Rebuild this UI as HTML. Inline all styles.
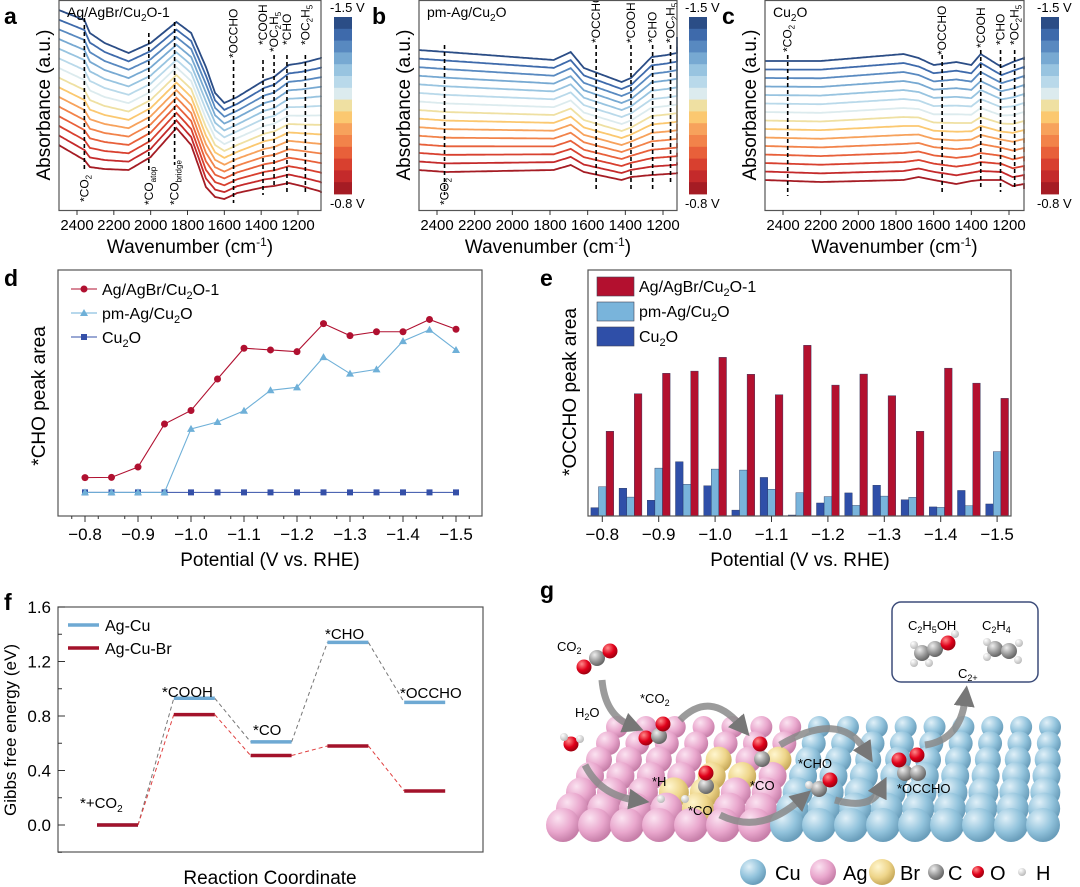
<!DOCTYPE html>
<html><head><meta charset="utf-8"><style>
body{margin:0;background:#fff}
svg{display:block;font-family:"Liberation Sans",sans-serif}
</style></head><body>
<svg id="fig" width="1080" height="887" viewBox="0 0 1080 887" xmlns="http://www.w3.org/2000/svg">
<defs>
<radialGradient id="gPink" cx="35%" cy="30%" r="70%"><stop offset="0" stop-color="#fbe3f1"/><stop offset="0.6" stop-color="#e9a7cd"/><stop offset="1" stop-color="#c77fa9"/></radialGradient>
<radialGradient id="gBlue" cx="35%" cy="30%" r="70%"><stop offset="0" stop-color="#e0f0f8"/><stop offset="0.6" stop-color="#92c3dc"/><stop offset="1" stop-color="#6a9ebb"/></radialGradient>
<radialGradient id="gYel" cx="35%" cy="30%" r="70%"><stop offset="0" stop-color="#fff6cf"/><stop offset="0.6" stop-color="#eed58a"/><stop offset="1" stop-color="#c9ab5c"/></radialGradient>
<radialGradient id="gGrey" cx="35%" cy="30%" r="70%"><stop offset="0" stop-color="#eee"/><stop offset="0.6" stop-color="#999"/><stop offset="1" stop-color="#666"/></radialGradient>
<radialGradient id="gRed" cx="35%" cy="30%" r="70%"><stop offset="0" stop-color="#ff8a8a"/><stop offset="0.6" stop-color="#e0001a"/><stop offset="1" stop-color="#a00010"/></radialGradient>
<radialGradient id="gWhite" cx="35%" cy="30%" r="70%"><stop offset="0" stop-color="#fff"/><stop offset="1" stop-color="#bbb"/></radialGradient>
<marker id="ah" viewBox="0 0 10 10" refX="3" refY="5" markerWidth="3" markerHeight="3" orient="auto"><path d="M0,0L10,5L0,10z" fill="#777"/></marker>
</defs>

<g font-weight="bold" font-size="23" fill="#000">
<text x="4" y="24">a</text>
<text x="372" y="24">b</text>
<text x="722" y="24">c</text>
<text x="4" y="286">d</text>
<text x="540" y="286">e</text>
<text x="4" y="610">f</text>
<text x="540" y="598">g</text>
</g>

<g id="pa"></g>
<g id="pb"></g>
<g id="pc"></g>
<g id="pd"></g>
<g id="pe"></g>
<g id="pf"></g>
<g id="pg"></g>
</svg>
<script>
// ---------- data ----------
const potentials = ['-0.8','-0.85','-0.9','-0.95','-1.0','-1.05','-1.1','-1.15','-1.2','-1.25','-1.3','-1.35','-1.4','-1.45','-1.5'];
const dTickLabels = ['\u22120.8','\u22120.9','\u22121.0','\u22121.1','\u22121.2','\u22121.3','\u22121.4','\u22121.5'];
const choAgAgBr = [15.6,15.7,19.9,37.4,42.9,55.7,68.2,67.5,66.8,78.2,73.3,74.9,74.9,79.9,75.9];
const choPmAg = [9.6,9.6,9.6,9.6,35.4,38.2,42.8,51.1,52.3,64.6,57.9,59.6,71.1,75.7,67.5];
const choCu2O = [9.6,9.6,9.6,9.6,9.6,9.6,9.6,9.6,9.6,9.6,9.6,9.6,9.6,9.6,9.6];
const occAgAgBr = [34.5,49.8,58.1,59.0,64.6,57.7,49.4,69.5,53.3,57.8,49.0,34.5,60.2,54.1,47.9];
const occPmAg = [11.9,7.7,19.5,12.9,19.1,18.7,10.9,9.5,7.9,4.3,8.1,7.6,3.5,4.2,26.2];
const occCu2O = [3.4,11.3,6.4,22.1,12.3,2.4,15.7,0.4,5.3,9.4,12.5,6.6,3.7,10.4,4.9];
const fSteps = ['*+CO2','*COOH','*CO','*CHO','*OCCHO'];
const fAgCu = [0,0.93,0.61,1.34,0.90];
const fAgCuBr = [0,0.81,0.51,0.58,0.25];
const fTicks = [0,0.4,0.8,1.2,1.6];
const irTicks = [2400,2200,2000,1800,1600,1400,1200];
const aTop = [[2500,10],[2360,20],[2330,33],[2250,43],[2120,53],[2000,43],[1860,22],[1780,33],[1700,67],[1650,93],[1600,103],[1530,97],[1380,80],[1330,77],[1250,65],[1180,63],[1050,57]];
const aBot = [[2500,145],[2360,160],[2330,167],[2250,169],[2120,170],[2000,157],[1860,128],[1780,145],[1700,187],[1650,197],[1600,199],[1530,193],[1380,187],[1330,186],[1250,183],[1180,186],[1050,193]];
const bTop = [[2500,50],[2350,52],[1780,60],[1690,52],[1620,68],[1420,82],[1370,78],[1260,57],[1180,55],[1100,52],[1050,37]];
const bBot = [[2500,170],[2350,172],[1780,170],[1690,165],[1620,172],[1420,180],[1370,177],[1260,175],[1180,174],[1100,173],[1050,172]];
const cTop = [[2500,61],[2200,61],[1760,54],[1680,58],[1600,65],[1480,62],[1400,65],[1350,54],[1240,67],[1180,62],[1120,58],[1050,60]];
const cBot = [[2500,180],[2400,182],[2200,180],[1800,177],[1700,180],[1640,184],[1500,181],[1380,180],[1330,180],[1230,186],[1100,184],[1050,189]];
const cmap = ['#a51c24','#c42a2b','#d8402f','#e8603a','#f2834a','#f7a25c','#fbc870','#efe0a2','#dcebee','#b9d9ea','#98c4e0','#77a9d2','#5889c0','#3e6aab','#2b4d86'];

const NS='http://www.w3.org/2000/svg';
function mk(parent,tag,attrs,txt){const e=document.createElementNS(NS,tag);for(const k in attrs)e.setAttribute(k,attrs[k]);if(txt!==undefined)e.textContent=txt;parent.appendChild(e);return e;}

// label parts: [text, sub, text2, sub2]
function ftir(gid,box,top,bot,title,peaks){
  const g=document.getElementById(gid);
  const [x0,x1,tick2400,tick1200,cbx]=box;
  const X=w=>tick2400+(2400-w)*(tick1200-tick2400)/1200;
  for(let i=0;i<15;i++){
    let d='';
    for(let w=2500;w>=1050;w-=10){
      let k=0;while(k<top.length-2&&top[k+1][0]>w)k++;
      const t=(top[k][0]-w)/(top[k][0]-top[k+1][0]);
      const yt=top[k][1]+(top[k+1][1]-top[k][1])*t;
      const yb=bot[k][1]+(bot[k+1][1]-bot[k][1])*t;
      const y=yb+(yt-yb)*i/14;
      const px=Math.max(x0,Math.min(x1,X(w)));
      d+=(d?'L':'M')+px.toFixed(1)+','+y.toFixed(1);
    }
    const p=mk(g,'path',{d:d,fill:'none',stroke:cmap[i],'stroke-width':1.8});
    
    
  }
  peaks.forEach(pk=>{
    const px=X(pk[0]);
    const l=mk(g,'line',{x1:px,x2:px,y1:pk[1],y2:pk[2],stroke:'#000','stroke-width':1.6,'stroke-dasharray':'4,3'});
    
    
    const parts=pk[3];
    const t=mk(g,'text',{x:0,y:0,'font-size':12,transform:`translate(${px+4},${pk[4]}) rotate(-90)`},parts[0]);
    if(parts[1]){mk(t,'tspan',{dy:3,'font-size':8},parts[1]);}
    if(parts[2]){mk(t,'tspan',{dy:-3},parts[2]);}
    if(parts[3]){mk(t,'tspan',{dy:3,'font-size':8},parts[3]);}
    
    
  });
  const fr=mk(g,'rect',{x:x0,y:0.5,width:x1-x0,height:210,fill:'none',stroke:'#555','stroke-width':1.2});
  
  
  irTicks.forEach(w=>{const px=X(w);
    mk(g,'line',{x1:px,x2:px,y1:210,y2:215,stroke:'#333'});
    const t=mk(g,'text',{x:px,y:230,'font-size':15,'text-anchor':'middle'},w);
    
    
  });
  const xt=mk(g,'text',{x:(x0+x1)/2,y:253,'font-size':19,'text-anchor':'middle'},'Wavenumber (cm');
  mk(xt,'tspan',{dy:-7,'font-size':12},'-1');mk(xt,'tspan',{dy:7},')');
  
  
  const yt=mk(g,'text',{x:0,y:0,'font-size':19,'text-anchor':'middle',transform:`translate(${x0-9},105) rotate(-90)`},'Absorbance (a.u.)');
  
  
  const tt=mk(g,'text',{x:x0+8,y:17,'font-size':14},title[0]);
  if(title[1]){mk(tt,'tspan',{dy:4,'font-size':10},'2');mk(tt,'tspan',{dy:-4},title[1]);}
  
  
  for(let i=0;i<15;i++){
    const r=mk(g,'rect',{x:cbx,y:17+i*11.8,width:18,height:12.2,fill:cmap[14-i]});
    
    
  }
  const t1=mk(g,'text',{x:cbx-4,y:12,'font-size':13},'-1.5 V');
  
  
  const t2=mk(g,'text',{x:cbx-4,y:208,'font-size':13},'-0.8 V');
  
  
}
ftir('pa',[59,321,77,298,334],aTop,aBot,['Ag/AgBr/Cu','O-1'],
 [[2360,18,170,['*CO','2'],202],[2010,33,170,['*CO','atop'],205],[1870,22,165,['*CO','bridge'],205],[1550,60,203,['*OCCHO'],58],[1390,60,195,['*COOH'],45],[1330,55,185,['*OC','2','H','5'],52],[1260,55,195,['*CHO'],45],[1160,55,195,['*OC','2','H','5'],45]]);
ftir('pb',[419,677,437,663,689],bTop,bBot,['pm-Ag/Cu','O'],
 [[2360,45,195,['*CO','2'],205],[1555,45,192,['*OCCHO'],43],[1370,45,190,['*COOH'],43],[1255,45,190,['*CHO'],43],[1160,45,185,['*OC','2','H','5'],43]]);
ftir('pc',[765,1024,783,1009,1041],cTop,cBot,['Cu','O'],
 [[2375,55,196,['*CO','2'],52],[1555,55,193,['*OCCHO'],55],[1350,50,190,['*COOH'],48],[1245,50,192,['*CHO'],45],[1170,50,188,['*OC','2','H','5'],45]]);

// ---------- panel d ----------
(function(){
  const g=document.getElementById('pd');
  const X=i=>85+i*26.5, Y=v=>516-v*2.46;
  mk(g,'rect',{x:58,y:270,width:424,height:246,fill:'none',stroke:'#555','stroke-width':1.2});
  for(let i=0;i<=15;i++){const x=X(i)-13.25;mk(g,'line',{x1:x,x2:x,y1:516,y2:519,stroke:'#333'});}
  dTickLabels.forEach((s,k)=>{const x=X(k*2);mk(g,'line',{x1:x,x2:x,y1:516,y2:522,stroke:'#333'});
    const t=mk(g,'text',{x:x,y:540,'font-size':17,'text-anchor':'middle'},s);
    
    });
  const xt=mk(g,'text',{x:270,y:566,'font-size':19,'text-anchor':'middle'},'Potential (V vs. RHE)');
  
  
  const yt=mk(g,'text',{x:0,y:0,'font-size':19,'text-anchor':'middle',transform:'translate(45,396) rotate(-90)'},'*CHO peak area');
  
  
  const series=[[choCu2O,'#3550a8','sq','Cu2O'],[choPmAg,'#6fb0d8','tri','pm-Ag/Cu2O'],[choAgAgBr,'#b01030','dot','Ag/AgBr/Cu2O-1']];
  series.forEach(s=>{
    const pts=s[0].map((v,i)=>X(i)+','+Y(v)).join(' ');
    const pl=mk(g,'polyline',{points:pts,fill:'none',stroke:s[1],'stroke-width':1.1});
    
    
    s[0].forEach((v,i)=>{const x=X(i),y=Y(v);let m;
      if(s[2]==='dot')m=mk(g,'circle',{cx:x,cy:y,r:3.5,fill:s[1]});
      else if(s[2]==='sq')m=mk(g,'rect',{x:x-3,y:y-3,width:6,height:6,fill:s[1]});
      else m=mk(g,'path',{d:`M${x},${y-4}L${x+4},${y+3}L${x-4},${y+3}z`,fill:s[1]});
      
      });
  });
  const leg=[['#b01030','dot','Ag/AgBr/Cu','O-1',289],['#6fb0d8','tri','pm-Ag/Cu','O',313],['#3550a8','sq','Cu','O',337]];
  leg.forEach(l=>{mk(g,'line',{x1:71,x2:97,y1:l[4],y2:l[4],stroke:l[0]});
    if(l[1]==='dot')mk(g,'circle',{cx:84,cy:l[4],r:3.5,fill:l[0]});
    else if(l[1]==='sq')mk(g,'rect',{x:81,y:l[4]-3,width:6,height:6,fill:l[0]});
    else mk(g,'path',{d:`M84,${l[4]-4}L88,${l[4]+3}L80,${l[4]+3}z`,fill:l[0]});
    const t=mk(g,'text',{x:102,y:l[4]+6,'font-size':16},l[2]);mk(t,'tspan',{dy:4,'font-size':11},'2');mk(t,'tspan',{dy:-4},l[3]);
    
    });
})();

// ---------- panel e ----------
(function(){
  const g=document.getElementById('pe');
  const X=i=>602.3+i*28.2, Y=v=>516-v*2.456, bw=7.6;
  const sets=[[occCu2O,'#2f4fa8',-1.5,'Cu2O'],[occPmAg,'#79b4db',-0.5,'pm-Ag'],[occAgAgBr,'#b3102f',0.5,'AgAgBr']];
  sets.forEach(s=>s[0].forEach((v,i)=>{
    const r=mk(g,'rect',{x:X(i)+s[2]*bw,y:Y(v),width:bw,height:516-Y(v),fill:s[1],stroke:'#22305a','stroke-width':0.4});
    
    }));
  mk(g,'rect',{x:588,y:270,width:423,height:246,fill:'none',stroke:'#555','stroke-width':1.2});
  dTickLabels.forEach((s,k)=>{const x=X(k*2);mk(g,'line',{x1:x,x2:x,y1:516,y2:522,stroke:'#333'});
    const t=mk(g,'text',{x:x,y:540,'font-size':17,'text-anchor':'middle'},s);
    
    });
  const xt=mk(g,'text',{x:800,y:566,'font-size':19,'text-anchor':'middle'},'Potential (V vs. RHE)');
  
  
  const yt=mk(g,'text',{x:0,y:0,'font-size':19,'text-anchor':'middle',transform:'translate(576,392) rotate(-90)'},'*OCCHO peak area');
  
  
  const leg=[['#b3102f','Ag/AgBr/Cu','O-1',277],['#79b4db','pm-Ag/Cu','O',302],['#2f4fa8','Cu','O',327]];
  leg.forEach(l=>{mk(g,'rect',{x:597,y:l[3],width:37,height:19,fill:l[0],stroke:'#445','stroke-width':0.6});
    const t=mk(g,'text',{x:639,y:l[3]+15,'font-size':16},l[1]);mk(t,'tspan',{dy:4,'font-size':11},'2');mk(t,'tspan',{dy:-4},l[2]);
    
    });
})();

// ---------- panel f ----------
(function(){
  const g=document.getElementById('pf');
  const X=i=>97+i*76.8, Y=e=>825-e*136.25, w=41;
  mk(g,'rect',{x:58,y:607,width:425,height:245,fill:'none',stroke:'#555','stroke-width':1.2});
  for(let e=-0.2;e<=1.61;e+=0.2){mk(g,'line',{x1:58,x2:62,y1:Y(e),y2:Y(e),stroke:'#333'});}
  fTicks.forEach(e=>{mk(g,'line',{x1:58,x2:65,y1:Y(e),y2:Y(e),stroke:'#333'});
    const t=mk(g,'text',{x:51,y:Y(e)+6,'font-size':17,'text-anchor':'end'},e.toFixed(1));
    
    });
  const yt=mk(g,'text',{x:0,y:0,'font-size':17,'text-anchor':'middle',transform:'translate(16,730) rotate(-90)'},'Gibbs free energy (eV)');
  
  
  const xt=mk(g,'text',{x:270,y:884,'font-size':19,'text-anchor':'middle'},'Reaction Coordinate');
  
  
  [[fAgCu,'#6ea9d3','#777','Ag-Cu'],[fAgCuBr,'#a3122a','#e04040','Ag-Cu-Br']].forEach(s=>{
    for(let i=0;i<4;i++){const c=mk(g,'line',{x1:X(i)+w,y1:Y(s[0][i]),x2:X(i+1),y2:Y(s[0][i+1]),stroke:s[2],'stroke-width':1,'stroke-dasharray':'4,3'});
      
      }
  });
  [[fAgCu,'#6ea9d3','Ag-Cu'],[fAgCuBr,'#a3122a','Ag-Cu-Br']].forEach(s=>{
    s[0].forEach((e,i)=>{const l=mk(g,'line',{x1:X(i),x2:X(i)+w,y1:Y(e),y2:Y(e),stroke:s[1],'stroke-width':3.5});
      
      });
  });
  const lab=[['*+CO',80,808,'2'],['*COOH',162,697],['*CO',253,735],['*CHO',325,639],['*OCCHO',400,698]];
  lab.forEach(l=>{const t=mk(g,'text',{x:l[1],y:l[2],'font-size':15},l[0]);if(l[3])mk(t,'tspan',{dy:4,'font-size':10},l[3]);
    
    });
  mk(g,'line',{x1:68,x2:99,y1:625,y2:625,stroke:'#6ea9d3','stroke-width':3.5});
  const t1=mk(g,'text',{x:105,y:631,'font-size':16},'Ag-Cu');
  
  
  mk(g,'line',{x1:68,x2:99,y1:648,y2:648,stroke:'#a3122a','stroke-width':3.5});
  const t2=mk(g,'text',{x:105,y:654,'font-size':16},'Ag-Cu-Br');
  
  
})();

// ---------- panel g ----------
(function(){
  const g=document.getElementById('pg');
  const rows=7,cols=16;
  const yellow=['2-4','3-4','4-4','4-3','5-4','3-5','2-6'];
  for(let r=0;r<rows;r++){
    const t=r/(rows-1);
    const y=727+t*98, rad=11+t*6;
    const xl=617+(547+16-617)*t, xr=1050+(1043-1050)*t;
    for(let c=0;c<cols;c++){
      const x=xl+(xr-xl)*c/(cols-1);
      const fill=yellow.includes(r+'-'+c)?'url(#gYel)':(c<7?'url(#gPink)':'url(#gBlue)');
      const s=mk(g,'circle',{cx:x,cy:y,r:rad,fill:fill});
      
      
    }
  }
  function arrow(d){const a=mk(g,'path',{d:d,fill:'none',stroke:'#8a8a8a','stroke-width':7,'stroke-opacity':0.85,'marker-end':'url(#ah)'});
    
    }
  arrow('M602,680 Q605,715 630,725');
  arrow('M680,720 Q710,690 740,725');
  arrow('M585,765 Q600,795 635,800');
  arrow('M720,815 Q760,835 800,800');
  arrow('M780,745 Q840,710 865,750');
  arrow('M835,800 Q870,810 880,790');
  arrow('M925,745 Q960,740 965,700');
  function atom(x,y,r,f){const a=mk(g,'circle',{cx:x,cy:y,r:r,fill:f});
    
    }
  const O=7.5,C=8,H=4;
  atom(584,667,O,'url(#gRed)');atom(597,658,C,'url(#gGrey)');atom(610,651,O,'url(#gRed)');
  atom(571,744,O,'url(#gRed)');atom(564,737,H,'url(#gWhite)');atom(580,739,H,'url(#gWhite)');
  atom(646,738,O,'url(#gRed)');atom(659,736,C,'url(#gGrey)');atom(663,724,O,'url(#gRed)');
  atom(706,786,C,'url(#gGrey)');atom(706,773,O,'url(#gRed)');atom(685,799,H,'url(#gWhite)');atom(661,799,H,'url(#gWhite)');
  atom(762,759,C,'url(#gGrey)');atom(760,744,O,'url(#gRed)');
  atom(819,789,C,'url(#gGrey)');atom(830,780,O,'url(#gRed)');atom(809,785,H,'url(#gWhite)');
  atom(905,773,C,'url(#gGrey)');atom(918,773,C,'url(#gGrey)');atom(899,760,O,'url(#gRed)');atom(917,755,O,'url(#gRed)');
  const box=mk(g,'rect',{x:892,y:602,width:146,height:80,rx:9,fill:'#fff',stroke:'#3d4d7a','stroke-width':1.5});
  
  
  atom(922,653,C,'url(#gGrey)');atom(935,649,C,'url(#gGrey)');atom(948,643,O,'url(#gRed)');atom(955,634,H,'url(#gWhite)');atom(914,663,H,'url(#gWhite)');atom(929,663,H,'url(#gWhite)');atom(914,645,H,'url(#gWhite)');
  atom(995,649,C,'url(#gGrey)');atom(1009,651,C,'url(#gGrey)');atom(987,642,H,'url(#gWhite)');atom(1019,643,H,'url(#gWhite)');atom(987,657,H,'url(#gWhite)');atom(1018,660,H,'url(#gWhite)');
  const labs=[['C',908,630,[['2',''],['H',0],['5',''],['OH',0]]],['C',982,630,[['2',''],['H',0],['4','']]],['C',958,678,[['2+','']]],['CO',557,651,[['2','']]],['*CO',640,703,[['2','']]],['H',575,717,[['2',''],['O',0]]],['*H',652,786,[]],['*CO',688,815,[]],['*CO',750,790,[]],['*CHO',798,768,[]],['*OCCHO',897,793,[]]];
  labs.forEach(l=>{const t=mk(g,'text',{x:l[1],y:l[2],'font-size':13},l[0]);
    l[3].forEach(p=>{if(p[1]==='')mk(t,'tspan',{dy:3,'font-size':9},p[0]);else mk(t,'tspan',{dy:-3},p[0]);});
    
    });
  const leg=[[753,13,'url(#gBlue)','Cu',775],[823,13,'url(#gPink)','Ag',843],[882,13,'url(#gYel)','Br',900],[936,8,'url(#gGrey)','C',948],[978,6,'url(#gRed)','O',990],[1022,4,'url(#gWhite)','H',1036]];
  leg.forEach(l=>{mk(g,'circle',{cx:l[0],cy:872,r:l[1],fill:l[2]});
    const t=mk(g,'text',{x:l[4],y:880,'font-size':20},l[3]);
    
    });
})();
</script>
</body></html>
